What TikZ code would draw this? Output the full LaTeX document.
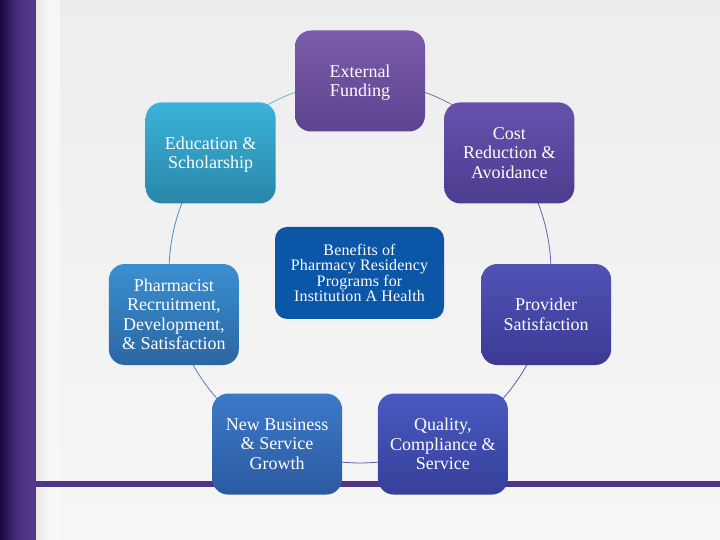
\documentclass[tikz,border=0pt]{standalone}
\usepackage{fontspec}
\setmainfont{Liberation Serif}
\definecolor{barL}{HTML}{160A45}
\definecolor{barR}{HTML}{54398A}
\definecolor{rule}{HTML}{4F3585}
\definecolor{extT}{HTML}{7B5BA9}\definecolor{extB}{HTML}{5C4490}
\definecolor{eduT}{HTML}{3BB3DA}\definecolor{eduB}{HTML}{2A86A8}
\definecolor{cosT}{HTML}{6751AD}\definecolor{cosB}{HTML}{4C3D8F}
\definecolor{benC}{HTML}{0C56A8}
\definecolor{phaT}{HTML}{3B8FD0}\definecolor{phaB}{HTML}{2A66A2}
\definecolor{proT}{HTML}{5152B5}\definecolor{proB}{HTML}{3D3A96}
\definecolor{newT}{HTML}{3C79C9}\definecolor{newB}{HTML}{2C5AA0}
\definecolor{quaT}{HTML}{4859BF}\definecolor{quaB}{HTML}{36409A}
\tikzset{
  box/.style={rounded corners=16pt, minimum width=130pt, minimum height=101pt,
    inner sep=0pt, text=white, align=center,
    font=\fontsize{18}{19.5}\selectfont},
  ring/.style={line width=0.8pt}
}
\begin{document}
\begin{tikzpicture}[x=1pt,y=1pt]
\useasboundingbox (0,0) rectangle (720,540);
% background
\shade[top color=black!7, bottom color=black!3.5] (60,0) rectangle (720,540);
\shade[left color=black!9, right color=black!2] (36,0) rectangle (50,540);
\fill[black!3] (50,0) rectangle (60,540);
\shade[left color=barL, right color=barR, middle color=barR!70!barL] (0,0) rectangle (30,540);
\fill[barR] (30,0) rectangle (36,540);
\fill[rule] (36,53) rectangle (720,59);
% positions on the ring
\coordinate (c) at (360,268);
\coordinate (pext) at ([shift={(360,268)}]90:191);
\coordinate (pedu) at ([shift={(360,268)}]141.43:191);
\coordinate (ppha) at ([shift={(360,268)}]192.86:191);
\coordinate (pnew) at ([shift={(360,268)}]244.29:191);
\coordinate (pqua) at ([shift={(360,268)}]295.71:191);
\coordinate (ppro) at ([shift={(360,268)}]347.14:191);
\coordinate (pcos) at ([shift={(360,268)}]38.57:191);
% ring arcs
\draw[ring, color={rgb,255:red,109;green,179;blue,212}] (pext) arc[start angle=90, end angle=141.43, radius=191];
\draw[ring, color={rgb,255:red,75;green,140;blue,192}] (pedu) arc[start angle=141.43, end angle=192.86, radius=191];
\draw[ring, color={rgb,255:red,90;green,124;blue,181}] (ppha) arc[start angle=192.86, end angle=244.29, radius=191];
\draw[ring, color={rgb,255:red,74;green,95;blue,159}] (pnew) arc[start angle=244.29, end angle=295.71, radius=191];
\draw[ring, color={rgb,255:red,82;green,96;blue,168}] (pqua) arc[start angle=295.71, end angle=347.14, radius=191];
\draw[ring, color={rgb,255:red,101;green,96;blue,181}] (ppro) arc[start angle=-12.86, end angle=38.57, radius=191];
\draw[ring, color={rgb,255:red,123;green,112;blue,168}] (pcos) arc[start angle=38.57, end angle=90, radius=191];
% nodes
\node[box, top color=extT, bottom color=extB] (ext) at (pext) {\\[-4pt]External\\Funding};
\node[box, top color=eduT, bottom color=eduB] (edu) at (pedu) {\\[-4pt]Education \&\\Scholarship};
\node[box, top color=cosT, bottom color=cosB] (cost) at (pcos) {Cost\\Reduction \&\\Avoidance};
\node[box, top color=phaT, bottom color=phaB] (pharm) at (ppha) {Pharmacist\\Recruitment,\\Development,\\\& Satisfaction};
\node[box, top color=proT, bottom color=proB] (prov) at (ppro) {Provider\\Satisfaction};
\node[box, top color=newT, bottom color=newB] (newb) at (pnew) {New Business\\\& Service\\Growth};
\node[box, top color=quaT, bottom color=quaB] (qual) at (pqua) {Quality,\\Compliance \&\\Service};
\node[box, fill=benC, minimum width=169pt, minimum height=92pt, rounded corners=12pt,
  font=\fontsize{16}{15.5}\selectfont\addfontfeatures{LetterSpace=1}] (ben) at (359.5,267)
  {Benefits of\\Pharmacy Residency\\Programs for\\Institution A Health};
\end{tikzpicture}
\end{document}
